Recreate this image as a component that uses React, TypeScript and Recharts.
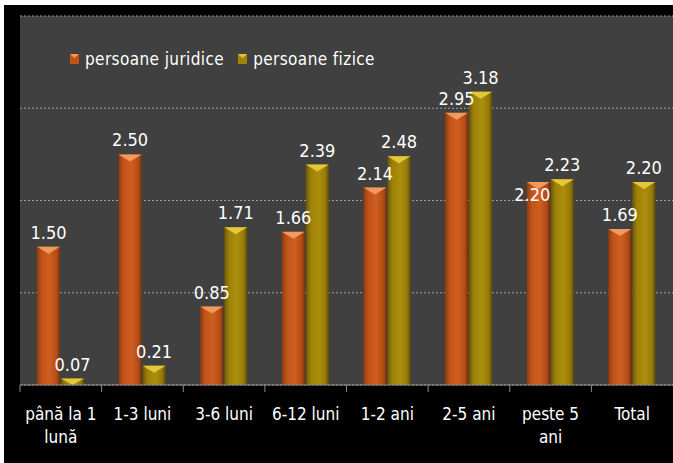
import React from "react";
import { BarChart, Bar, XAxis, YAxis, CartesianGrid, LabelList, Legend, Text } from "recharts";

const categories = ["până la 1 lună", "1-3 luni", "3-6 luni", "6-12 luni", "1-2 ani", "2-5 ani", "peste 5 ani", "Total"];
const juridice = [1.5, 2.5, 0.85, 1.66, 2.14, 2.95, 2.2, 1.69];
const fizice = [0.07, 0.21, 1.71, 2.39, 2.48, 3.18, 2.23, 2.2];
const yTicks = [0, 1, 2, 3, 4];
const seriesNames = ["persoane juridice", "persoane fizice"];

const data = categories.map((c, i) => ({ cat: c, juridice: juridice[i], fizice: fizice[i] }));

const FONT = "'DejaVu Sans Condensed', 'Liberation Sans Narrow', 'DejaVu Sans', sans-serif";
const CHART_W = 669;
const CHART_H = 458;
const X_AXIS_H = 30;
const MARGIN = { top: 11, right: 0, left: 16, bottom: 78 - X_AXIS_H };
const HALF_BAND = (CHART_W - MARGIN.left - MARGIN.right) / categories.length / 2;

const makeShape = (grad: string, light: string) => (props: any) => {
  const { x, y, width, height } = props;
  if (!height || height <= 0) return null;
  const th = Math.min(7, height);
  return (
    <g>
      <rect x={x} y={y} width={width} height={height} fill={`url(#${grad})`} />
      <polygon points={`${x},${y} ${x + width},${y} ${x + width / 2},${y + th}`} fill={light} />
    </g>
  );
};

const Tick = (props: any) => {
  const { x, y, payload } = props;
  return (
    <g>
      <line x1={x - HALF_BAND} y1={y} x2={x - HALF_BAND} y2={y + 7} stroke="#8c8c8c" strokeWidth={1} />
      <Text
        x={x}
        y={y + 23}
        width={HALF_BAND * 2 - 2}
        textAnchor="middle"
        verticalAnchor="start"
        lineHeight={23}
        fill="#ffffff"
        style={{ fontFamily: FONT, fontSize: 17 }}
      >
        {payload.value}
      </Text>
    </g>
  );
};

// Label for the first series: when it would collide with its neighbour's label,
// nudge it left and down (as the reference does).
const JurLabel = (props: any) => {
  const { x, y, width, value, index } = props;
  const other = fizice[index];
  const collide = Math.abs(other - value) < 0.12;
  const cx = x + width / 2 + (collide ? -6 : 0);
  const by = collide ? y + 19 : y - 8;
  return (
    <text x={cx} y={by} textAnchor="middle" fill="#ffffff" style={{ fontFamily: FONT, fontSize: 18 }}>
      {Number(value).toFixed(2)}
    </text>
  );
};

const fmt = (v: any) => Number(v).toFixed(2);

const LegendContent = () => (
  <div style={{ display: "flex", alignItems: "center", fontFamily: FONT, fontSize: 17, letterSpacing: 0.4, color: "#ffffff", lineHeight: "20px" }}>
    {seriesNames.map((n, i) => (
      <div key={n} style={{ display: "flex", alignItems: "center", marginRight: 14 }}>
        <svg width={9} height={10} style={{ marginRight: 6 }}>
          <rect x={0} y={0} width={9} height={10} fill={i === 0 ? "#c0531a" : "#a0840b"} />
          <polygon points="0,0 9,0 4.5,4" fill={i === 0 ? "#f09a5e" : "#e2c83a"} />
        </svg>
        <span>{n}</span>
      </div>
    ))}
  </div>
);

export default function App() {
  return (
    <div style={{ position: "absolute", left: 0, top: 0, width: 673, height: 463, background: "#ffffff", overflow: "hidden" }}>
      <div style={{ position: "absolute", left: 4, top: 5, width: CHART_W, height: CHART_H, background: "#000000" }}>
        <BarChart width={CHART_W} height={CHART_H} data={data} margin={MARGIN} barSize={23} barGap={1}>
          <defs>
            <linearGradient id="gOr" x1="0" y1="0" x2="1" y2="0">
              <stop offset="0%" stopColor="#8e3a0e" />
              <stop offset="20%" stopColor="#c0531a" />
              <stop offset="55%" stopColor="#cf5f20" />
              <stop offset="85%" stopColor="#b44c16" />
              <stop offset="100%" stopColor="#7a320c" />
            </linearGradient>
            <linearGradient id="gGo" x1="0" y1="0" x2="1" y2="0">
              <stop offset="0%" stopColor="#6b5606" />
              <stop offset="20%" stopColor="#9c800a" />
              <stop offset="55%" stopColor="#ad8f0c" />
              <stop offset="85%" stopColor="#957a09" />
              <stop offset="100%" stopColor="#5e4b05" />
            </linearGradient>
          </defs>
          <CartesianGrid vertical={false} fill="#404040" stroke="#a0a0a0" strokeDasharray="2 2" />
          <YAxis hide domain={[0, 4]} ticks={yTicks} />
          <XAxis
            dataKey="cat"
            interval={0}
            height={X_AXIS_H}
            tickLine={false}
            tickSize={0}
            tickMargin={0}
            axisLine={{ stroke: "#8c8c8c", strokeWidth: 1 }}
            tick={<Tick />}
          />
          <Legend
            layout="horizontal"
            verticalAlign="middle"
            align="center"
            content={<LegendContent />}
            wrapperStyle={{ top: 44, left: 66, width: 420 }}
          />
          <Bar dataKey="juridice" name={seriesNames[0]} fill="#c0531a" shape={makeShape("gOr", "#f09a5e")} isAnimationActive={false}>
            <LabelList dataKey="juridice" content={<JurLabel />} />
          </Bar>
          <Bar dataKey="fizice" name={seriesNames[1]} fill="#a0840b" shape={makeShape("gGo", "#e2c83a")} isAnimationActive={false}>
            <LabelList dataKey="fizice" position="top" offset={8} formatter={fmt} fill="#ffffff" style={{ fontFamily: FONT, fontSize: 18 }} />
          </Bar>
        </BarChart>
      </div>
    </div>
  );
}
